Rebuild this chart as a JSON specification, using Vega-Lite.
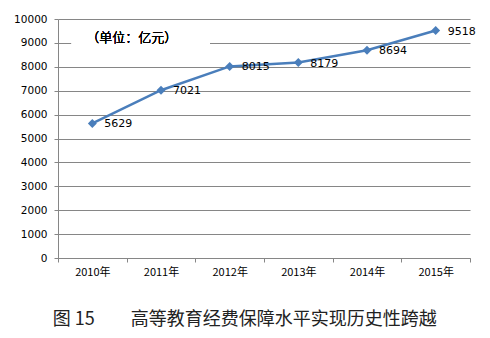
{
  "$schema": "https://vega.github.io/schema/vega-lite/v6.json",
  "autosize": {"type": "none"},
  "width": 412,
  "height": 239,
  "padding": {"left": 58, "top": 19, "right": 20, "bottom": 80},
  "background": "white",
  "config": {
    "view": {"stroke": null},
    "font": "DejaVu Sans"
  },
  "title": {
    "text": "图 15　　高等教育经费保障水平实现历史性跨越",
    "orient": "bottom",
    "anchor": "middle",
    "frame": "bounds",
    "font": "Noto Sans CJK SC",
    "fontSize": 18,
    "fontWeight": "normal",
    "color": "#222222",
    "offset": 34
  },
  "data": {
    "values": [
      {"year": "2010年", "value": 5629},
      {"year": "2011年", "value": 7021},
      {"year": "2012年", "value": 8015},
      {"year": "2013年", "value": 8179},
      {"year": "2014年", "value": 8694},
      {"year": "2015年", "value": 9518}
    ]
  },
  "encoding": {
    "x": {
      "field": "year",
      "type": "ordinal",
      "scale": {"type": "band", "paddingInner": 0, "paddingOuter": 0},
      "axis": {
        "title": null,
        "labelAngle": 0,
        "tickBand": "extent",
        "domainColor": "#868686",
        "tickColor": "#868686",
        "tickSize": 4,
        "labelFont": "Noto Sans CJK SC",
        "labelFontSize": 11,
        "labelColor": "#000000",
        "labelPadding": 4,
        "grid": false
      }
    },
    "y": {
      "field": "value",
      "type": "quantitative",
      "scale": {"domain": [0, 10000], "nice": false},
      "axis": {
        "title": null,
        "format": "d",
        "values": [0, 1000, 2000, 3000, 4000, 5000, 6000, 7000, 8000, 9000, 10000],
        "grid": true,
        "gridColor": "#868686",
        "gridWidth": 1,
        "domainColor": "#868686",
        "tickColor": "#868686",
        "tickSize": 4,
        "labelFontSize": 10.5,
        "labelColor": "#000000",
        "labelPadding": 7
      }
    }
  },
  "layer": [
    {
      "mark": {"type": "rule", "color": "white", "strokeWidth": 4},
      "encoding": {
        "x": {"datum": "2010年", "bandPosition": 0.2},
        "x2": {"datum": "2012年", "bandPosition": 0.21},
        "y": {"datum": 9000}
      }
    },
    {
      "mark": {"type": "text", "align": "left", "baseline": "middle", "font": "Noto Sans CJK SC", "fontSize": 13, "fontWeight": 300, "color": "#000000", "dx": -6},
      "encoding": {
        "x": {"datum": "2010年"},
        "y": {"datum": 9200},
        "text": {"value": "（单位：亿元）"}
      }
    },
    {
      "mark": {
        "type": "line",
        "color": "#4A7EBB",
        "strokeWidth": 2.5,
        "point": {"shape": "diamond", "filled": true, "size": 80, "color": "#4A7EBB"}
      }
    },
    {
      "mark": {"type": "text", "align": "left", "baseline": "middle", "dx": 12, "dy": 1, "fontSize": 11, "color": "#000000"},
      "encoding": {"text": {"field": "value", "type": "quantitative", "format": "d"}}
    }
  ]
}
